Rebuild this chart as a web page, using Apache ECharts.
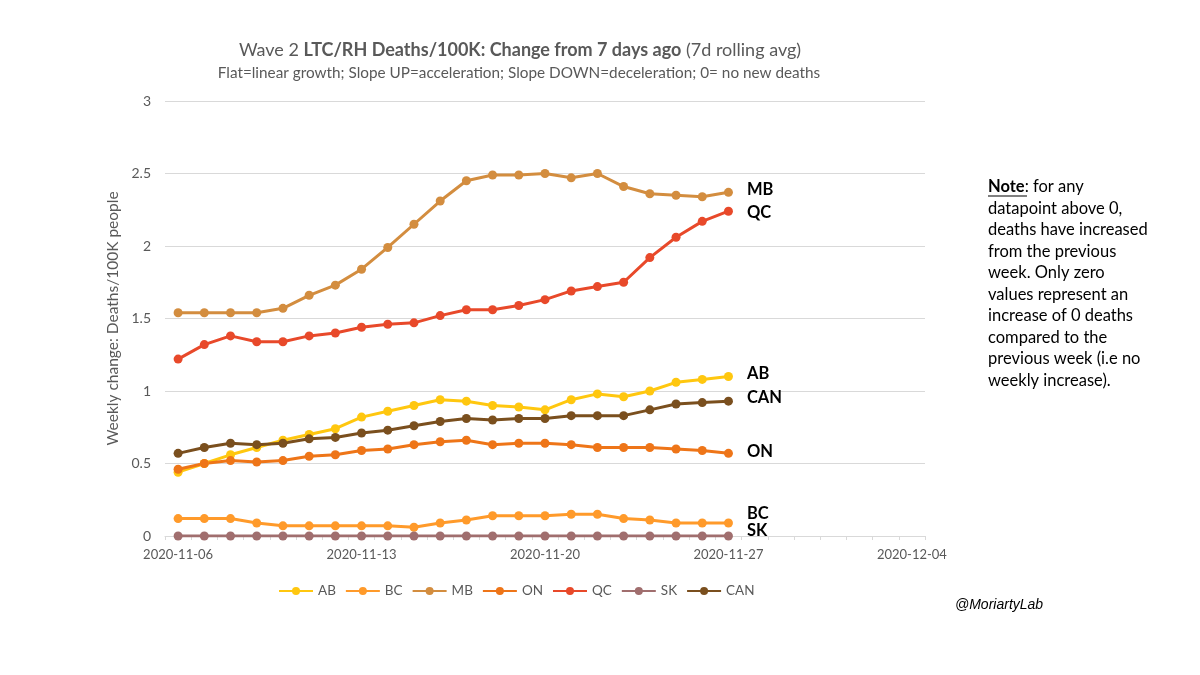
<!DOCTYPE html>
<html>
<head>
<meta charset="utf-8">
<script src="https://cdn.jsdelivr.net/npm/echarts@6/dist/echarts.min.js"></script>
<style>html,body{margin:0;padding:0;background:#fff}#c{width:1200px;height:675px}</style>
</head>
<body>
<div id="c"></div>
<script>
const dates = ['2020-11-06','2020-11-07','2020-11-08','2020-11-09','2020-11-10','2020-11-11','2020-11-12',
  '2020-11-13','2020-11-14','2020-11-15','2020-11-16','2020-11-17','2020-11-18','2020-11-19',
  '2020-11-20','2020-11-21','2020-11-22','2020-11-23','2020-11-24','2020-11-25','2020-11-26',
  '2020-11-27','2020-11-28','2020-11-29','2020-11-30','2020-12-01','2020-12-02','2020-12-03','2020-12-04'];
const AB  = [0.44,0.50,0.56,0.61,0.66,0.70,0.74,0.82,0.86,0.90,0.94,0.93,0.90,0.89,0.87,0.94,0.98,0.96,1.00,1.06,1.08,1.10];
const BC  = [0.12,0.12,0.12,0.09,0.07,0.07,0.07,0.07,0.07,0.06,0.09,0.11,0.14,0.14,0.14,0.15,0.15,0.12,0.11,0.09,0.09,0.09];
const MB  = [1.54,1.54,1.54,1.54,1.57,1.66,1.73,1.84,1.99,2.15,2.31,2.45,2.49,2.49,2.50,2.47,2.50,2.41,2.36,2.35,2.34,2.37];
const ON  = [0.46,0.50,0.52,0.51,0.52,0.55,0.56,0.59,0.60,0.63,0.65,0.66,0.63,0.64,0.64,0.63,0.61,0.61,0.61,0.60,0.59,0.57];
const QC  = [1.22,1.32,1.38,1.34,1.34,1.38,1.40,1.44,1.46,1.47,1.52,1.56,1.56,1.59,1.63,1.69,1.72,1.75,1.92,2.06,2.17,2.24];
const SK  = [0,0,0,0,0,0,0,0,0,0,0,0,0,0,0,0,0,0,0,0,0,0];
const CAN = [0.57,0.61,0.64,0.63,0.64,0.67,0.68,0.71,0.73,0.76,0.79,0.81,0.80,0.81,0.81,0.83,0.83,0.83,0.87,0.91,0.92,0.93];
const yTicks = [0, 0.5, 1, 1.5, 2, 2.5, 3];

const seriesDefs = [
  {name:'AB', data:AB, color:'#FFC70F', dy:-3},
  {name:'BC', data:BC, color:'#FF9A2A', dy:-9},
  {name:'MB', data:MB, color:'#D38D3F', dy:-3},
  {name:'ON', data:ON, color:'#EE7518', dy:-2},
  {name:'QC', data:QC, color:'#E8492A', dy:1},
  {name:'SK', data:SK, color:'#A06E6E', dy:-5},
  {name:'CAN', data:CAN, color:'#7A4F1E', dy:-3}
];
const lastIdx = 21;

const chart = echarts.init(document.getElementById('c'), null, {renderer:'canvas'});
const txt = '#595959';
chart.setOption({
  backgroundColor:'#fff',
  animation:false,
  title:[{
    text:'{n|Wave 2 }{b|LTC/RH Deaths/100K: Change from 7 days ago}{n| (7d rolling avg)}',
    left:515, top:36, textAlign:'center',
    textStyle:{fontWeight:'normal', fontFamily:'Lato', fontSize:18, color:txt, rich:{
      n:{fontFamily:'Lato', fontSize:18, fontWeight:'normal', color:txt},
      b:{fontFamily:'Lato', fontSize:18, fontWeight:'bold', color:txt}
    }}
  },{
    text:'Flat=linear growth; Slope UP=acceleration; Slope DOWN=deceleration; 0= no new deaths',
    left:514, top:61, textAlign:'center',
    textStyle:{fontFamily:'Lato', fontSize:15.3, fontWeight:'normal', color:txt}
  }],
  grid:{left:165, right:275, top:101, bottom:139, containLabel:false},
  xAxis:{
    type:'category', data:dates, boundaryGap:true,
    axisLine:{lineStyle:{color:'#d9d9d9', width:1}},
    axisTick:{show:true, interval:0, length:4, lineStyle:{color:'#d9d9d9'}},
    axisLabel:{interval:6, color:txt, fontFamily:'Lato', fontSize:13, margin:12},
    splitLine:{show:false}
  },
  yAxis:{
    type:'value', min:yTicks[0], max:yTicks[yTicks.length-1], interval:0.5,
    name:'Weekly change: Deaths/100K people', nameLocation:'middle', nameGap:33,
    nameTextStyle:{color:txt, fontFamily:'Lato', fontSize:15.5},
    axisLine:{show:false}, axisTick:{show:false},
    axisLabel:{color:txt, fontFamily:'Lato', fontSize:14, margin:14},
    splitLine:{lineStyle:{color:'#d9d9d9', width:1}}
  },
  legend:{
    data:seriesDefs.map(s=>s.name), left:273, top:579, itemWidth:34, itemHeight:10, itemGap:9,
    textStyle:{color:txt, fontFamily:'Lato', fontSize:13.5}
  },
  series:seriesDefs.map(s=>({
    name:s.name, type:'line', data:s.data, color:s.color,
    symbol:'circle', symbolSize:9, showSymbol:true,
    lineStyle:{width:3, color:s.color}, itemStyle:{color:s.color},
    label:{show:true, position:'right', distance:14, offset:[0,s.dy],
      formatter:p=>p.dataIndex===lastIdx ? s.name : '',
      color:'#000', fontFamily:'Lato', fontWeight:'bold', fontSize:16.5}
  })),
  graphic:[
    {type:'text', left:988, top:176, style:{
      text:'{b|Note}: for any\ndatapoint above 0,\ndeaths have increased\nfrom the previous\nweek. Only zero\nvalues represent an\nincrease of 0 deaths\ncompared to the\nprevious week (i.e no\nweekly increase).',
      fontFamily:'Lato', fontSize:16.5, lineHeight:21.5, fill:'#000',
      rich:{b:{fontFamily:'Lato', fontSize:16.5, fontWeight:'bold', fill:'#000', lineHeight:21.5}}
    }},
    {type:'line', shape:{x1:988, y1:196, x2:1027, y2:196}, style:{stroke:'#000', lineWidth:1.2}},
    {type:'text', left:955, top:598, style:{text:'@MoriartyLab', fontFamily:'Liberation Sans', fontStyle:'italic', fontSize:14, fill:'#000'}}
  ]
});
</script>
</body>
</html>
